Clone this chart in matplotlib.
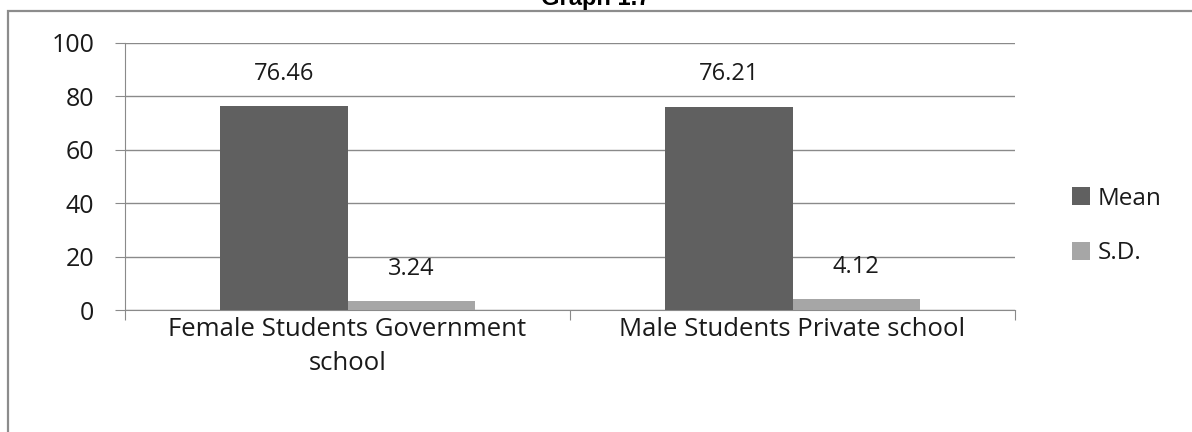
import matplotlib.pyplot as plt
import numpy as np
from matplotlib.patches import Rectangle

categories = ['Female Students Government\nschool', 'Male Students Private school']
mean_vals = [76.46, 76.21]
sd_vals = [3.24, 4.12]
series_names = ['Mean', 'S.D.']

plt.rcParams['font.family'] = ['Open Sans', 'DejaVu Sans']

fig = plt.figure(figsize=(11.92, 4.32), dpi=100)
W, H = 1192, 432

# outer frame of the original document (only top and left edges are visible)
fig.add_artist(Rectangle((8 / W, -0.05), 1.1, 1.05 - 11 / H,
                         transform=fig.transFigure, fill=False,
                         edgecolor='#8c8c8c', linewidth=1.6))
fig.text(0.5, 1 - 5 / H, 'Graph 1.7', ha='center', va='baseline',
         fontsize=17, fontweight='bold', family='Liberation Sans')

ax = fig.add_axes([125 / W, 1 - 310 / H, (1015 - 125) / W, (310 - 43) / H])

x = np.arange(len(categories))
w = 0.2857
b1 = ax.bar(x - w / 2, mean_vals, w, color='#606060', label=series_names[0], zorder=3)
b2 = ax.bar(x + w / 2, sd_vals, w, color='#a6a6a6', label=series_names[1], zorder=3)

for bars, vals in [(b1, mean_vals), (b2, sd_vals)]:
    for r, v in zip(bars, vals):
        ax.text(r.get_x() + r.get_width() / 2, v + 7.5, f'{v:.2f}',
                ha='center', va='bottom', fontsize=17, color='#1a1a1a')

ax.set_xlim(-0.5, len(categories) - 0.5)
ax.set_ylim(0, 100)
ax.set_yticks(range(0, 101, 20))
ax.yaxis.grid(True, color='#8a8a8a', linewidth=1, zorder=0)
ax.set_axisbelow(True)

ax.set_xticks([-0.5, 0.5, 1.5])
ax.set_xticklabels([])
ax.set_xticks(x, minor=True)
ax.set_xticklabels(categories, minor=True, fontsize=18.5, color='#1a1a1a',
                   linespacing=1.5)
ax.tick_params(axis='x', which='minor', length=0, pad=5)
ax.tick_params(axis='x', which='major', length=7, color='#8a8a8a', direction='out')
ax.tick_params(axis='y', length=7, color='#8a8a8a', labelsize=18,
               labelcolor='#1a1a1a', pad=15)

for s in ['top', 'right']:
    ax.spines[s].set_visible(False)
for s in ['left', 'bottom']:
    ax.spines[s].set_color('#8a8a8a')

leg = fig.legend(handles=[b1, b2], loc='center left',
                 bbox_to_anchor=(1050 / W, 1 - 226 / H), frameon=False,
                 fontsize=17.5, handlelength=0.75, handleheight=0.75,
                 handletextpad=0.3, labelspacing=1.25)
for t in leg.get_texts():
    t.set_color('#1a1a1a')

fig.savefig('out.png', dpi=100)
